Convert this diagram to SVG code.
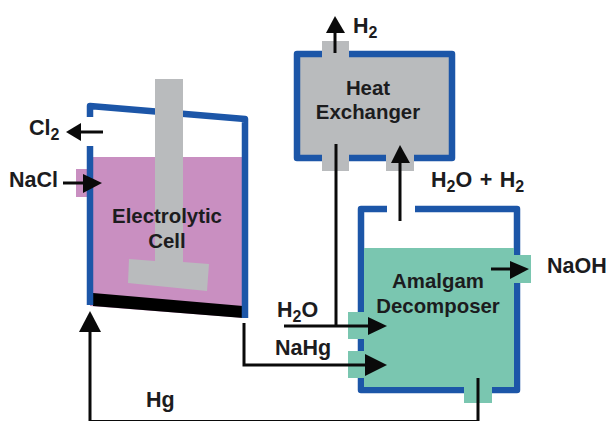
<svg xmlns="http://www.w3.org/2000/svg" width="610" height="421" viewBox="0 0 610 421">
<defs>
<style>
.wall{fill:none;stroke:#1c56a8;stroke-width:6.5;stroke-linejoin:round}
.line{fill:none;stroke:#0a0a0a;stroke-width:3}
.head{fill:#0a0a0a}
.grey{fill:#b9bbbd}
.pink{fill:#c98fc1}
.green{fill:#7ac6b0}
text{font-family:"Liberation Sans",Arial,sans-serif;font-weight:700;font-size:21.5px;fill:#1c1c1e}
.node{font-size:20.4px;text-anchor:middle}
.sub{font-size:16px}
</style>
</defs>
<rect width="610" height="421" fill="#fff"/>
<g id="electrolytic-cell">
<polygon class="pink" points="90,157 245,157 245,318 90,306"/>
<rect class="pink" x="76" y="169" width="17" height="28"/>
<polygon fill="#000" points="93,293 243,306 243,318 93,306"/>
<path class="wall" d="M90,117V106L245,119V318"/>
<path class="wall" d="M90,146V305"/>
<polygon class="grey" points="155,79 183,79 183,262 209,264 207,291 128,283 129,259 155,261"/>
<text class="node" x="167" y="223">Electrolytic</text>
<text class="node" x="167" y="248">Cell</text>
</g>
<g id="heat-exchanger">
<rect class="grey" x="297" y="54" width="155" height="104"/>
<path class="wall" d="M322,54H297V158H322M349,158H386M414,158H452V54H349"/>
<rect class="grey" x="322" y="41" width="27" height="20"/>
<rect class="grey" x="322" y="150" width="27" height="21"/>
<rect class="grey" x="386" y="150" width="28" height="21"/>
<text class="node" x="368" y="95">Heat</text>
<text class="node" x="368" y="119">Exchanger</text>
</g>
<g id="amalgam-decomposer">
<path class="wall" d="M387,209H361V390H517V209H415"/>
<polygon class="green" points="364,248 514,248 514,387 364,387"/>
<rect class="green" x="348" y="312" width="20" height="27"/>
<rect class="green" x="348" y="351" width="20" height="27"/>
<rect class="green" x="510" y="255" width="21" height="28"/>
<rect class="green" x="464" y="385" width="28" height="18"/>
<text class="node" x="438" y="288">Amalgam</text>
<text class="node" x="438" y="313">Decomposer</text>
</g>
<g id="connectors">
<path class="line" d="M103,132H78"/>
<polygon class="head" points="66,132 81,123 81,141"/>
<path class="line" d="M63,183H85"/>
<polygon class="head" points="102,183 83,174 83,193"/>
<path class="line" d="M335,53V30"/>
<polygon class="head" points="335,16 345,33 326,33"/>
<path class="line" d="M336,144V326"/>
<path class="line" d="M400,221V160"/>
<polygon class="head" points="400,145 410,163 391,163"/>
<path class="line" d="M284,326H370"/>
<polygon class="head" points="387,326 368,317 368,335"/>
<path class="line" d="M244,323V365H368"/>
<polygon class="head" points="387,365 365,354 365,376"/>
<path class="line" d="M491,269H512"/>
<polygon class="head" points="529,269 510,261 510,279"/>
<path class="line" d="M478,378V421.5H90V330"/>
<polygon class="head" points="90,311 101,332 79,332"/>
</g>
<g id="labels">
<text x="29" y="135">Cl<tspan class="sub" dy="5">2</tspan></text>
<text x="9" y="187">NaCl</text>
<text x="353" y="33">H<tspan class="sub" dy="5">2</tspan></text>
<text x="431" y="187" word-spacing="1.5">H<tspan class="sub" dy="5">2</tspan><tspan dy="-5">O + H</tspan><tspan class="sub" dy="5">2</tspan></text>
<text x="547" y="273">NaOH</text>
<text x="277" y="317">H<tspan class="sub" dy="5">2</tspan><tspan dy="-5">O</tspan></text>
<text x="275" y="355">NaHg</text>
<text x="146" y="407">Hg</text>
</g>
</svg>
